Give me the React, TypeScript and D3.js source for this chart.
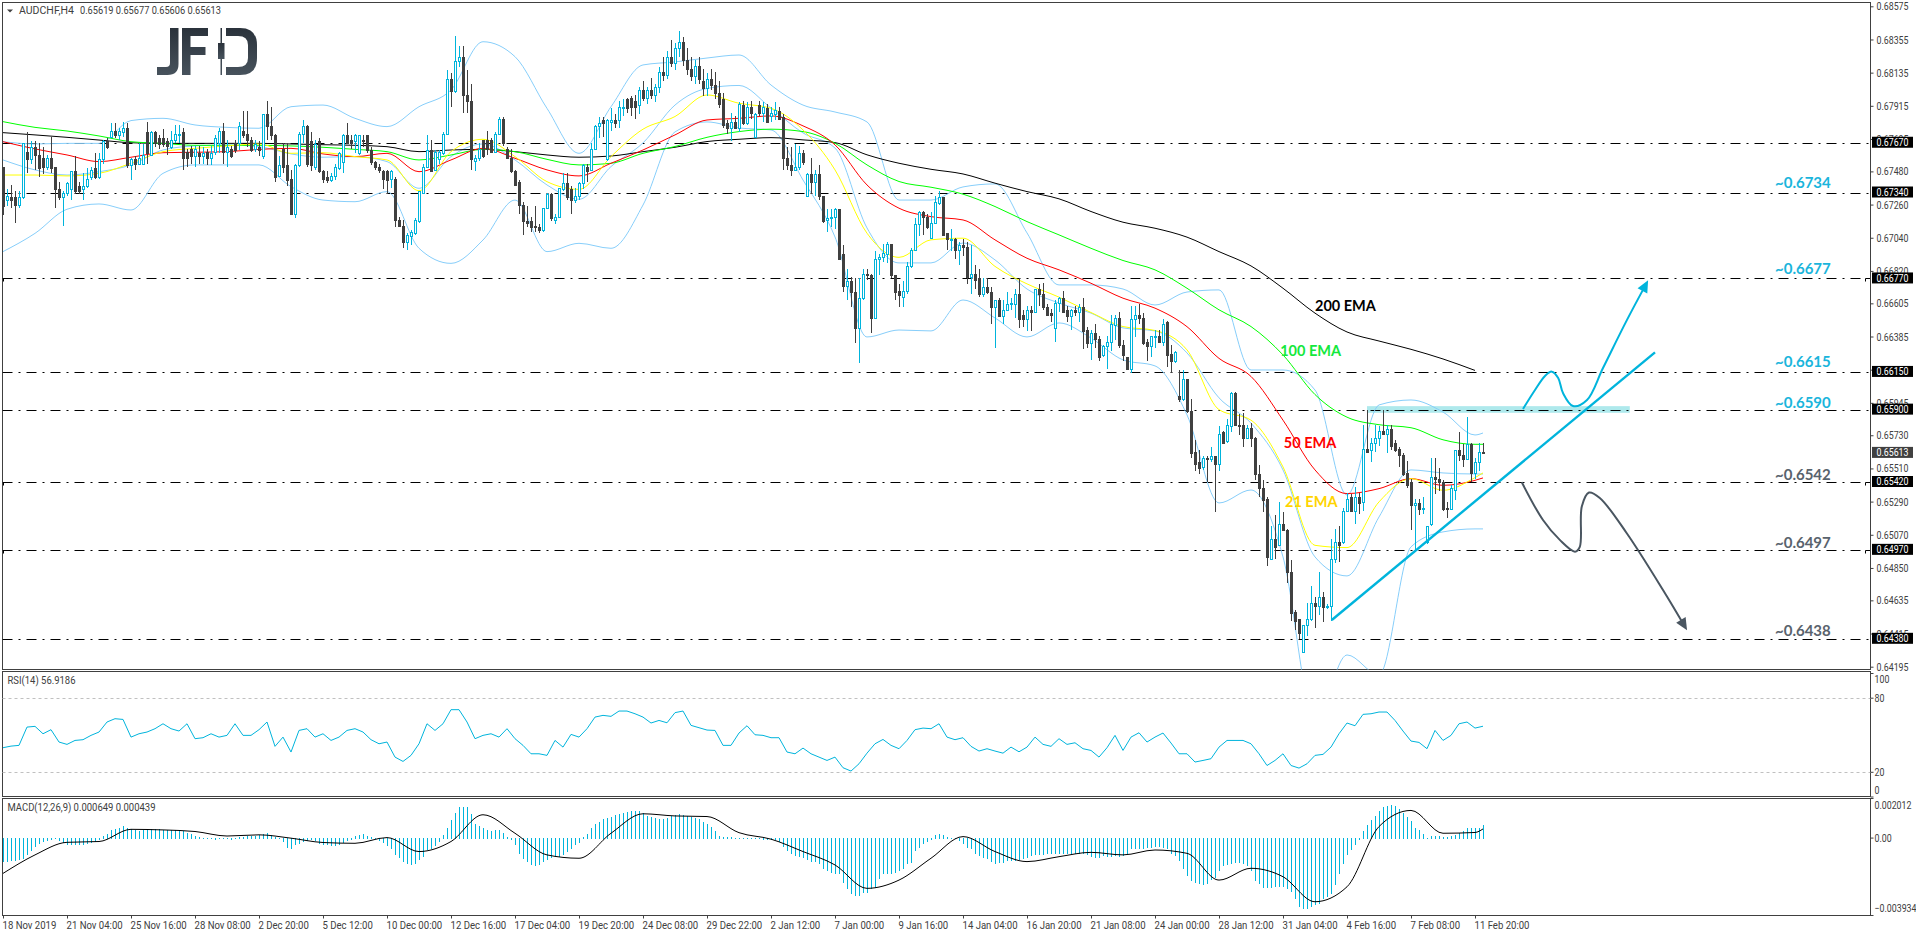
import React, { useEffect, useRef } from "react";
import * as d3 from "d3";

// AUDCHF H4 candles, prices in pips (6751 = 0.6751), one row per 16 bars
const opens = [
  6751,6729,6731,6731,6726,6731,6761,6756,6764,6759,6757,6751,6757,6751,6736,6731,
  6734,6736,6748,6738,6736,6738,6744,6750,6744,6756,6768,6771,6775,6772,6774,6777,
  6752,6756,6753,6753,6774,6759,6774,6770,6770,6768,6764,6769,6773,6774,6761,6763,
  6758,6760,6758,6761,6757,6761,6767,6775,6761,6763,6767,6767,6775,6773,6769,6763,
  6764,6758,6786,6778,6772,6745,6763,6752,6743,6720,6752,6773,6778,6768,6751,6768,
  6748,6744,6742,6745,6750,6754,6772,6769,6768,6760,6769,6772,6762,6754,6751,6748,
  6748,6743,6743,6716,6712,6701,6705,6707,6715,6734,6751,6762,6749,6756,6760,6773,
  6809,6801,6821,6824,6799,6795,6755,6757,6769,6769,6769,6761,6773,6783,6763,6757,
  6748,6741,6726,6715,6715,6712,6711,6709,6724,6733,6716,6718,6736,6740,6736,6729,
  6732,6740,6751,6749,6763,6778,6782,6756,6781,6782,6782,6790,6796,6797,6795,6792,
  6802,6797,6802,6799,6804,6814,6812,6824,6820,6830,6834,6822,6816,6811,6818,6808,
  6803,6809,6805,6800,6796,6780,6777,6781,6777,6792,6780,6791,6771,6792,6787,6790,
  6785,6786,6788,6784,6757,6752,6749,6751,6760,6732,6746,6741,6746,6732,6716,6717,
  6718,6723,6693,6672,6675,6668,6644,6664,6680,6679,6651,6690,6691,6693,6700,6679,
  6669,6665,6669,6685,6696,6713,6721,6718,6704,6714,6727,6731,6707,6703,6703,6696,
  6699,6698,6678,6680,6677,6667,6671,6668,6658,6663,6652,6656,6660,6660,6667,6653,
  6650,6656,6655,6670,6667,6658,6654,6644,6661,6664,6656,6652,6656,6655,6658,6643,
  6634,6641,6637,6626,6632,6635,6646,6651,6633,6625,6617,6650,6653,6651,6635,6632,
  6639,6639,6635,6648,6627,6622,6599,6597,6610,6589,6562,6555,6552,6558,6557,6559,
  6554,6575,6569,6579,6601,6580,6580,6571,6578,6571,6547,6538,6531,6491,6504,6500,
  6514,6510,6482,6456,6451,6429,6447,6451,6462,6460,6466,6459,6460,6491,6502,6502,
  6523,6532,6523,6532,6529,6564,6563,6568,6571,6576,6574,6577,6568,6564,6560,6548,
  6542,6527,6528,6524,6502,6514,6545,6544,6542,6525,6524,6537,6563,6560,6557,6567,
  6548,6555,6561.9,
];
const highs = [
  6751,6736,6739,6735,6735,6767,6774,6768,6768,6767,6764,6759,6771,6751,6741,6735,
  6741,6748,6758,6741,6747,6750,6751,6760,6760,6769,6770,6780,6780,6777,6781,6780,
  6757,6758,6767,6766,6781,6775,6775,6772,6776,6770,6775,6779,6779,6777,6763,6765,
  6765,6765,6764,6763,6765,6772,6777,6780,6769,6765,6769,6781,6788,6788,6771,6769,
  6768,6786,6795,6791,6773,6758,6767,6767,6749,6753,6774,6782,6779,6774,6769,6770,
  6749,6748,6747,6753,6761,6773,6780,6772,6773,6772,6772,6772,6764,6755,6753,6749,
  6749,6749,6744,6718,6716,6707,6709,6717,6735,6753,6772,6769,6762,6762,6774,6815,
  6813,6838,6831,6831,6815,6806,6759,6767,6769,6775,6770,6774,6784,6784,6764,6763,
  6749,6742,6728,6725,6718,6725,6713,6724,6734,6734,6720,6737,6747,6747,6738,6737,
  6741,6753,6753,6767,6779,6784,6784,6783,6790,6786,6795,6796,6797,6798,6799,6804,
  6808,6804,6810,6806,6817,6824,6828,6835,6833,6841,6837,6830,6824,6822,6824,6816,
  6813,6816,6814,6808,6800,6782,6787,6785,6794,6795,6794,6795,6787,6795,6794,6793,
  6791,6794,6791,6786,6764,6764,6766,6765,6762,6747,6757,6749,6752,6732,6723,6723,
  6724,6723,6699,6683,6678,6677,6677,6683,6683,6680,6695,6693,6700,6701,6700,6679,
  6673,6675,6688,6697,6717,6722,6722,6720,6721,6732,6735,6731,6707,6710,6704,6701,
  6703,6701,6699,6686,6683,6677,6677,6671,6663,6664,6663,6668,6664,6670,6677,6656,
  6659,6659,6670,6673,6674,6660,6657,6663,6665,6669,6659,6657,6659,6660,6664,6645,
  6643,6647,6639,6633,6639,6653,6653,6655,6636,6625,6659,6659,6660,6654,6637,6639,
  6643,6643,6650,6649,6633,6629,6616,6616,6610,6597,6570,6563,6559,6559,6565,6559,
  6579,6576,6584,6602,6602,6587,6588,6580,6581,6572,6553,6543,6532,6513,6520,6529,
  6522,6511,6490,6457,6451,6447,6462,6473,6466,6482,6469,6461,6504,6511,6513,6525,
  6535,6534,6539,6535,6580,6590,6571,6580,6579,6590,6580,6580,6570,6565,6561,6556,
  6544,6531,6531,6532,6513,6558,6558,6551,6543,6529,6540,6563,6575,6567,6585,6568,
  6558,6568,6567.7,
];
const lows = [
  6719,6725,6724,6714,6724,6730,6747,6753,6749,6744,6746,6749,6747,6724,6729,6712,
  6732,6729,6733,6733,6729,6737,6742,6743,6743,6753,6763,6770,6770,6769,6771,6750,
  6742,6749,6752,6752,6753,6758,6764,6763,6764,6759,6763,6767,6767,6749,6751,6753,
  6751,6753,6753,6752,6752,6759,6760,6753,6751,6757,6760,6762,6770,6764,6761,6761,
  6758,6756,6769,6769,6741,6744,6747,6738,6719,6717,6751,6767,6751,6748,6749,6747,
  6740,6740,6741,6742,6749,6747,6767,6763,6760,6759,6764,6760,6752,6749,6747,6736,
  6733,6737,6711,6711,6697,6696,6699,6706,6714,6733,6750,6748,6748,6753,6759,6772,
  6791,6800,6817,6787,6787,6749,6748,6755,6757,6759,6760,6760,6772,6765,6756,6747,
  6738,6720,6706,6711,6708,6708,6707,6708,6723,6715,6713,6717,6735,6729,6720,6727,
  6729,6736,6741,6748,6762,6770,6771,6755,6775,6777,6777,6785,6787,6785,6783,6786,
  6795,6793,6796,6794,6800,6808,6809,6817,6815,6824,6818,6812,6808,6806,6806,6798,
  6798,6802,6796,6790,6777,6773,6768,6776,6774,6779,6779,6783,6770,6785,6781,6780,
  6781,6782,6782,6749,6749,6745,6748,6749,6752,6732,6733,6732,6729,6714,6708,6711,
  6710,6689,6668,6663,6658,6634,6621,6663,6676,6641,6651,6679,6688,6687,6677,6663,
  6658,6658,6667,6684,6696,6705,6706,6710,6704,6714,6726,6705,6696,6695,6690,6686,
  6692,6673,6667,6670,6665,6665,6667,6647,6631,6652,6647,6656,6656,6651,6644,6645,
  6642,6642,6654,6659,6656,6652,6648,6635,6655,6655,6648,6643,6652,6648,6630,6631,
  6623,6631,6622,6625,6617,6629,6636,6631,6622,6617,6614,6638,6647,6633,6622,6625,
  6631,6634,6632,6618,6614,6621,6595,6596,6588,6558,6549,6547,6550,6542,6555,6522,
  6549,6568,6568,6575,6579,6573,6565,6571,6565,6543,6532,6522,6486,6491,6491,6500,
  6510,6475,6450,6444,6438,6429,6440,6450,6445,6454,6449,6458,6450,6488,6489,6501,
  6522,6522,6514,6521,6523,6561,6555,6562,6566,6574,6561,6563,6562,6552,6546,6538,
  6510,6496,6520,6521,6501,6513,6534,6536,6523,6518,6524,6530,6556,6552,6557,6542,
  6544,6549,6560.6,
];
const closes = [
  6725,6732,6729,6726,6731,6767,6756,6764,6759,6750,6751,6757,6750,6736,6731,6734,
  6740,6748,6735,6735,6738,6743,6749,6744,6756,6768,6764,6775,6772,6775,6777,6752,
  6756,6753,6757,6759,6760,6774,6767,6766,6766,6765,6769,6773,6773,6757,6757,6758,
  6763,6758,6760,6757,6760,6770,6775,6761,6764,6758,6762,6778,6772,6769,6762,6766,
  6762,6786,6778,6772,6744,6752,6751,6742,6720,6752,6773,6778,6753,6752,6766,6748,
  6743,6742,6745,6751,6760,6772,6767,6767,6772,6772,6768,6762,6754,6751,6749,6743,
  6742,6748,6716,6712,6701,6706,6708,6716,6735,6751,6762,6748,6761,6761,6773,6809,
  6801,6821,6824,6799,6795,6756,6757,6763,6758,6763,6761,6773,6783,6767,6757,6748,
  6739,6726,6715,6714,6711,6711,6709,6724,6733,6717,6718,6737,6740,6731,6729,6732,
  6740,6752,6748,6763,6778,6780,6780,6782,6782,6780,6791,6791,6790,6791,6791,6802,
  6797,6802,6799,6804,6814,6812,6824,6820,6830,6834,6822,6816,6811,6818,6809,6803,
  6809,6805,6800,6793,6779,6777,6781,6777,6793,6780,6791,6787,6786,6787,6791,6781,
  6787,6789,6783,6757,6752,6749,6751,6760,6754,6746,6741,6746,6732,6715,6717,6718,
  6723,6690,6672,6675,6668,6644,6664,6680,6679,6651,6690,6691,6694,6700,6679,6668,
  6666,6669,6685,6696,6713,6721,6718,6711,6714,6728,6731,6706,6703,6703,6696,6699,
  6698,6678,6680,6676,6667,6671,6668,6658,6663,6652,6656,6660,6661,6667,6650,6650,
  6656,6655,6670,6667,6658,6653,6653,6661,6664,6655,6652,6656,6655,6658,6642,6634,
  6641,6637,6625,6632,6635,6647,6651,6633,6626,6617,6650,6653,6651,6634,6632,6639,
  6639,6635,6647,6626,6622,6628,6597,6610,6589,6561,6554,6551,6558,6557,6559,6554,
  6574,6568,6580,6601,6580,6579,6571,6578,6571,6547,6538,6530,6492,6504,6499,6514,
  6510,6482,6455,6450,6442,6447,6451,6462,6460,6466,6459,6460,6491,6502,6500,6523,
  6531,6523,6532,6528,6564,6562,6568,6571,6576,6574,6577,6566,6563,6560,6547,6540,
  6527,6528,6524,6525,6513,6545,6544,6542,6524,6524,6538,6563,6560,6557,6567,6548,
  6555,6562,6561.3,
];

// moving averages and bands, read every 8th bar (last one at bar 370)
const lineBars = [...d3.range(0, 369, 8), 370];
const ema200 = [
  6773.7,6772.2,6770.6,6768.8,6767,6766.6,6766.6,6766.6,6766.6,6766.2,6765.7,6765.3,6764.4,6761.1,6762.2,6762.6,6761.1,6758.9,6757.4,6758.2,
  6761.1,6764,6767.8,6769.3,6770.4,6768.9,6767.1,6759,6753.4,6749.4,6746.3,6740.2,6734.6,6729.8,6721.4,6714.3,6710.3,6704.4,6694.8,6685.3,6670.5,
  6654,6641.5,6635.5,6630,6623.6,6616,
];
const ema100 = [
  6781,6777.2,6774.8,6771.5,6767.7,6766.6,6765.3,6765.3,6765.3,6764.9,6764,6762.6,6761.1,6755.6,6758.9,6762.6,6761.1,6756,6752.3,6753.4,
  6760,6764.5,6770.6,6774.4,6776,6774.4,6766.7,6752.3,6741.3,6737.5,6732.9,6724.7,6714.7,6705.9,6697,6688.9,6682.7,6670.5,6656.2,6645.1,6626.3,
  6600,6585,6580,6578,6570,6567,6567,
];
const ema50 = [
  6767.7,6762.9,6758.9,6754.5,6757.4,6760.4,6760.7,6761.1,6762.6,6763.3,6759.6,6757.8,6760,6747.8,6755.6,6763.3,6756.7,6749,6745,6753.4,
  6762.2,6772.2,6782.1,6783.2,6784.8,6778.2,6765.6,6739,6723.6,6718,6715.8,6702.6,6690.4,6682.7,6673.8,6663.9,6657.3,6645,6624,6612,6583,
  6550,6534.3,6537.6,6544.2,6539.8,6543.1,6544.7,
];
const ema21 = [
  6745.6,6745.6,6745,6746.7,6753.4,6761.1,6763.3,6764.9,6766.2,6760,6760.4,6757.8,6755.6,6735.2,6761.1,6769.3,6757.8,6741.2,6736.1,6757.8,
  6776,6784.4,6798.7,6793.2,6789.9,6775.5,6749,6707,6691,6702.6,6703.7,6685,6673.4,6664.6,6654.4,6645.1,6642.5,6629.6,6590,6583,6552,
  6500,6498.5,6528.8,6544.2,6536.5,6544.9,6548,
];
const bandUpper = [
  6767.7,6766.2,6766.6,6766.6,6781.7,6783.2,6778.8,6777.2,6776.6,6790.9,6792,6783.2,6777.7,6790.9,6802,6834,6824.1,6789.8,6760,6790.9,
  6818.6,6820.6,6823.2,6825.2,6805.3,6792,6787.4,6780.8,6729,6729,6737.7,6739.7,6707.2,6672.7,6672.7,6670,6659.4,6668,6669.4,6616.3,6616.3,
  6603,6533.4,6593.1,6596.4,6588.4,6573.2,6574.5,
];
const bandMiddle = [
  6755.6,6749,6745.6,6747.8,6752.3,6762.2,6764.9,6765.5,6764.4,6759.6,6757.4,6757.8,6754.5,6736.8,6757.8,6766.2,6755.6,6739,6729.5,6751.2,
  6766.9,6792,6803,6805,6790,6773.5,6763.5,6710.5,6687.3,6687.3,6700.5,6689.3,6670,6660.7,6654,6644.2,6642.2,6627.6,6597.8,6581,6550,
  6492.3,6479.7,6518.8,6550,6548,6547.3,6547.3,
];
const bandLower = [
  6694.8,6706.9,6722.9,6726.4,6722.4,6746.7,6752.3,6752.3,6752.3,6737.9,6729,6727.9,6734.6,6697,6687,6702.5,6729,6694.8,6700.3,6697,
  6725.7,6774.2,6780.8,6776.8,6775.5,6742.3,6704.5,6638.2,6642.8,6642.2,6662.7,6650.8,6638.2,6647.5,6637.5,6623,6619,6586.5,6528.1,6536.7,6492.3,
  6384,6427.3,6414,6499,6508.9,6510.9,6510.9,
];

// RSI(14), read every 2nd bar
const rsiValues = [
  39.5,40.8,41.4,56.2,56.8,50.8,54.1,44.1,42.2,45.4,46,49.5,52.2,60.3,63,62.4,48.1,50.8,52.2,54.9,
  58.9,54.9,53,58.9,46.8,47.6,50.8,48.1,49.5,58.9,49.5,49.5,54.1,60.3,40.6,48.1,36,53.5,54.9,48.1,
  50.8,45.4,48.1,53.5,54.9,52.2,46,42.7,44.1,31.9,28.4,33.3,42.7,58.9,53.5,58.9,70.3,70.3,60.3,46.8,
  49.5,50.8,48.1,54.9,46.8,41.4,34.6,34.6,33.3,45.4,40,50.3,48.1,54.9,64.3,65.7,64.9,69.2,69.2,67,
  64.3,59.5,61.6,59.7,67.9,69.2,57.6,55.7,53.8,53.5,41.4,41.4,51.4,57.3,50,49.5,47.6,47.6,36,34.6,
  39.2,34.6,31.9,29.2,31.9,23.3,20.6,26.5,35.1,42.7,46.2,41.4,38.7,45.4,54.1,55.4,54.9,58.9,48.1,46,
  47.6,40.6,36.8,38.7,36.8,35.1,40,36.2,40,48.1,42.2,40.6,46.8,42.2,43.5,38.7,37.3,31.9,39.5,49.5,
  37.3,48.1,51.6,44.1,48.1,51.4,43.3,34.6,34.6,27.9,29.2,30.6,40,45.4,45.4,45.4,42.7,34.6,25.1,29.2,
  34.6,25.1,23,26.5,33.3,34.1,40,50.8,59.5,57.3,66.5,67,68.4,68.4,61.6,53,44.9,43.8,38.7,53.5,
  45.4,49.5,58.9,60.3,55.4,56.9,
];
const rsiBars = d3.range(0, 371, 2);

// MACD(12,26,9) histogram per bar, units of 0.00001, one row per 16 bars
const macdBars = [
  -119,-119,-115,-115,-110,-102,-81,-64,-42,-25,-17,-14,-7,-3,-14,-24,
  -31,-34,-34,-31,-31,-27,-24,-17,-8,8,20,37,42,51,58,51,
  42,37,34,37,37,42,42,42,37,41,41,41,37,31,24,17,
  10,5,0,0,-3,-5,-3,-3,-3,-5,-3,3,5,7,8,10,
  14,20,24,14,3,-3,-17,-47,-51,-34,-25,-17,-14,-7,-14,-25,
  -31,-34,-37,-37,-31,-20,-14,-5,7,14,17,10,3,-3,-14,-24,
  -37,-51,-81,-98,-119,-129,-132,-129,-110,-93,-59,-51,-37,-17,14,51,
  88,127,156,156,156,119,71,59,47,37,34,37,37,25,5,-8,
  -34,-76,-102,-119,-132,-139,-136,-119,-110,-98,-93,-93,-85,-68,-51,-34,
  -20,3,17,47,68,81,93,102,105,115,122,127,132,136,136,136,
  127,110,105,102,93,93,102,110,115,119,115,110,105,102,93,81,
  68,54,34,8,3,3,3,0,0,0,0,0,0,0,-5,-8,
  -8,-8,-17,-42,-63,-80,-88,-93,-97,-110,-117,-119,-127,-156,-165,-173,
  -182,-182,-224,-258,-284,-292,-292,-275,-275,-258,-250,-207,-182,-182,-178,-173,
  -165,-156,-131,-122,-63,-46,-25,-17,-8,14,19,12,5,0,-3,-12,
  -29,-46,-54,-76,-88,-97,-105,-117,-127,-122,-122,-114,-114,-114,-110,-105,
  -97,-88,-83,-83,-83,-80,-76,-76,-80,-80,-76,-76,-76,-76,-80,-83,
  -93,-100,-97,-88,-93,-93,-88,-93,-88,-80,-54,-54,-54,-54,-49,-46,
  -42,-42,-49,-54,-80,-88,-114,-156,-190,-216,-224,-233,-236,-233,-212,-199,
  -165,-139,-134,-131,-122,-126,-131,-139,-165,-216,-233,-250,-250,-250,-246,-246,
  -246,-255,-272,-306,-348,-357,-357,-348,-340,-331,-306,-297,-280,-238,-178,-127,
  -85,-59,-34,-5,31,65,90,110,136,153,161,165,161,144,127,105,
  82,51,37,17,0,7,10,10,3,5,7,14,25,31,48,48,
  48,51,65,
];
const macdSignal = [
  -182,-88,-24,-20,42,39,31,8,14,-3,-25,-29,0,-71,-20,116,22,-88,-105,22,
  121,110,107,25,-8,-71,-139,-258,-216,-105,5,-71,-122,-97,-75,-88,-63,-80,-216,-156,-199,
  -326,-250,56,138,22,26,44,
];

// axes
const timeLabels = [
  "18 Nov 2019","21 Nov 04:00","25 Nov 16:00","28 Nov 08:00","2 Dec 20:00","5 Dec 12:00","10 Dec 00:00","12 Dec 16:00",
  "17 Dec 04:00","19 Dec 20:00","24 Dec 08:00","29 Dec 22:00","2 Jan 12:00","7 Jan 00:00","9 Jan 16:00","14 Jan 04:00",
  "16 Jan 20:00","21 Jan 08:00","24 Jan 00:00","28 Jan 12:00","31 Jan 04:00","4 Feb 16:00","7 Feb 08:00","11 Feb 20:00",
];
const priceTicks = [
  0.68575,0.68355,0.68135,0.67915,0.67695,0.6748,0.6726,0.6704,0.6682,0.66605,0.66385,0.66165,
  0.65945,0.6573,0.6551,0.6529,0.6507,0.6485,0.64635,0.64415,0.64195,
];
const levels = [0.6767, 0.6734, 0.6677, 0.6615, 0.659, 0.6542, 0.6497, 0.6438];
const hookedLevels = [0.6677, 0.6542, 0.6497];
const lastPrice = 0.65613;

// drawn objects, in bars and pips
const trendBars = [332.2, 413];
const trendPips = [6450.5, 6628];
const zoneBars = [341, 406.7];
const zonePips = [6592.3, 6587.9];
const upBars = [380, 383, 385.5, 387.2, 388.8, 390, 392.5, 396, 400, 406, 410.8];
const upPips = [6590.4, 6603, 6612.3, 6615.2, 6611, 6601, 6592.4, 6596.4, 6617.6, 6649.5, 6673.4];
const downBars = [379.7, 385, 389.2, 393, 394.2, 394.7, 396.5, 399.2, 405.9, 415, 420.5];
const downPips = [6541.8, 6516.8, 6503.6, 6495.8, 6499, 6525.7, 6535, 6531.4, 6508.2, 6470.4, 6446];
const levelNotes = [
  { text: "~0.6734", level: 0.6734, up: 10, tone: "up" },
  { text: "~0.6677", level: 0.6677, up: 10, tone: "up" },
  { text: "~0.6615", level: 0.6615, up: 10, tone: "up" },
  { text: "~0.6590", level: 0.659, up: 7, tone: "up" },
  { text: "~0.6542", level: 0.6542, up: 7, tone: "down" },
  { text: "~0.6497", level: 0.6497, up: 7, tone: "down" },
  { text: "~0.6438", level: 0.6438, up: 8, tone: "down" },
];
const emaNotes = [
  { text: "200 EMA", bar: 328, pips: 6659, color: "#000000" },
  { text: "100 EMA", bar: 319.3, pips: 6628.9, color: "#14e83c" },
  { text: "50 EMA", bar: 320.2, pips: 6568, color: "#ff0000" },
  { text: "21 EMA", bar: 320.5, pips: 6529, color: "#ffd400" },
];

const BLUE = "#00b4dc";
const DARK = "#404040";
const SLATE = "#4a5661";
const TICK_FONT = "Roboto, sans-serif";
const NOTE_FONT = "Lato, 'Open Sans', sans-serif";

const LEFT = 2.5;
const RIGHT = 1870.5;
const MAIN = { top: 2.5, bottom: 669.5 };
const RSI = { top: 671.5, bottom: 796.5 };
const MACD = { top: 798.5, bottom: 915.5 };

// The platform font is narrower than anything installed, so squeeze the glyphs
const squeeze = (sel: any, k: number) =>
  sel.each(function (this: SVGTextElement) {
    this.setAttribute("textLength", String(this.getComputedTextLength() * k));
    this.setAttribute("lengthAdjust", "spacingAndGlyphs");
  });

export default function App() {
  const svgRef = useRef<SVGSVGElement>(null);

  useEffect(() => {
    if (!svgRef.current) return;
    const svg = d3.select(svgRef.current);
    svg.selectAll("*").remove();

    const x = d3.scaleLinear().domain([0, 466.875]).range([3, RIGHT]);
    const yPrice = d3.scaleLinear().domain([0.68575, 0.64195]).range([6.3, 666.7]);
    const yPips = (p: number) => yPrice(p / 10000);
    const yRsi = d3.scaleLinear().domain([0, 100]).range([796.5, 673]);
    const yMacd = d3.scaleLinear().domain([-0.003934, 0.002012]).range([915, 798]);

    const defs = svg.append("defs");
    defs.append("clipPath").attr("id", "main-clip").append("rect")
      .attr("x", LEFT).attr("y", MAIN.top).attr("width", RIGHT - LEFT).attr("height", MAIN.bottom - MAIN.top);
    const logoFill = defs.append("linearGradient").attr("id", "logo-fill")
      .attr("x1", "0%").attr("y1", "0%").attr("x2", "0%").attr("y2", "100%");
    logoFill.append("stop").attr("offset", "0%").attr("stop-color", "#2a323b");
    logoFill.append("stop").attr("offset", "100%").attr("stop-color", "#47525c");

    // Pane frames
    [MAIN, RSI, MACD].forEach((p) => {
      svg.append("rect")
        .attr("x", LEFT).attr("y", p.top).attr("width", RIGHT - LEFT).attr("height", p.bottom - p.top)
        .attr("fill", "none").attr("stroke", "#404040").attr("stroke-width", 1);
    });

    // Logo
    const logo = svg.append("g").attr("fill", "url(#logo-fill)");
    logo.append("path").attr("d", "M170,28h8.5v36q0,11 -11,11h-10.5v-8h9q4,0 4,-4z");
    logo.append("path").attr("d", "M182,28h26v8h-17.5v11h15v8h-15v20h-8.5z");
    logo.append("path").attr("d", "M226,28h14q17,0 17,17v13q0,17 -17,17h-14v-8h12q10,0 10,-9v-13q0,-9 -10,-9h-12z");
    logo.append("rect").attr("x", 220.5).attr("y", 28).attr("width", 1.5).attr("height", 47);
    logo.append("rect").attr("x", 218).attr("y", 43).attr("width", 6.5).attr("height", 16);

    const main = svg.append("g").attr("clip-path", "url(#main-clip)");

    // Resistance zone
    main.append("rect")
      .attr("x", x(zoneBars[0])).attr("width", x(zoneBars[1]) - x(zoneBars[0]))
      .attr("y", yPips(zonePips[0])).attr("height", yPips(zonePips[1]) - yPips(zonePips[0]))
      .attr("fill", "#aee9ec");

    // Horizontal levels
    main.selectAll(".level").data(levels).enter().append("line")
      .attr("x1", LEFT).attr("x2", RIGHT)
      .attr("y1", (d) => Math.round(yPrice(d)) + 0.5).attr("y2", (d) => Math.round(yPrice(d)) + 0.5)
      .attr("stroke", "#000").attr("stroke-width", 1).attr("stroke-dasharray", "10 6 2 6");

    // Bands and moving averages
    const seriesLine = d3.line<number>()
      .x((_, i) => x(lineBars[i]))
      .y((d) => yPips(d))
      .curve(d3.curveMonotoneX);
    [
      { values: bandUpper, color: "#87cefa" },
      { values: bandMiddle, color: "#87cefa" },
      { values: bandLower, color: "#87cefa" },
      { values: ema200, color: "#000000" },
      { values: ema100, color: "#00ff00" },
      { values: ema50, color: "#ff0000" },
      { values: ema21, color: "#ffff00" },
    ].forEach((s) => {
      main.append("path").attr("d", seriesLine(s.values))
        .attr("fill", "none").attr("stroke", s.color).attr("stroke-width", 1);
    });

    // Candles
    const candles = main.append("g").attr("shape-rendering", "crispEdges");
    d3.range(closes.length).forEach((i) => {
      const up = closes[i] >= opens[i];
      const color = up ? BLUE : DARK;
      const cx = Math.round(x(i));
      const top = Math.round(yPips(Math.max(opens[i], closes[i])));
      const bottom = Math.round(yPips(Math.min(opens[i], closes[i])));
      candles.append("rect")
        .attr("x", cx).attr("width", 1)
        .attr("y", Math.round(yPips(highs[i])))
        .attr("height", Math.max(1, Math.round(yPips(lows[i])) - Math.round(yPips(highs[i]))))
        .attr("fill", color);
      if (up) {
        candles.append("rect")
          .attr("x", cx - 0.5).attr("width", 2)
          .attr("y", top + 0.5).attr("height", Math.max(1, bottom - top))
          .attr("fill", "#fff").attr("stroke", color).attr("stroke-width", 1);
      } else {
        candles.append("rect")
          .attr("x", cx - 1).attr("width", 3)
          .attr("y", top).attr("height", Math.max(1, bottom - top + 1))
          .attr("fill", color);
      }
    });

    // Trend line and scenario arrows
    main.append("line")
      .attr("x1", x(trendBars[0])).attr("y1", yPips(trendPips[0]))
      .attr("x2", x(trendBars[1])).attr("y2", yPips(trendPips[1]))
      .attr("stroke", BLUE).attr("stroke-width", 2.4);

    const arrow = (bars: number[], pips: number[], color: string) => {
      const pts = bars.map((b, i) => [x(b), yPips(pips[i])] as [number, number]);
      main.append("path")
        .attr("d", d3.line().curve(d3.curveCatmullRom.alpha(0.5))(pts))
        .attr("fill", "none").attr("stroke", color).attr("stroke-width", 2);
      const [px, py] = pts[pts.length - 2];
      const [ex, ey] = pts[pts.length - 1];
      const angle = (Math.atan2(ey - py, ex - px) * 180) / Math.PI;
      main.append("path")
        .attr("d", "M0,0L-12,-5.5L-12,5.5Z")
        .attr("transform", `translate(${ex + 4 * Math.cos((angle * Math.PI) / 180)},${ey + 4 * Math.sin((angle * Math.PI) / 180)}) rotate(${angle})`)
        .attr("fill", color);
    };
    arrow(upBars, upPips, BLUE);
    arrow(downBars, downPips, SLATE);

    // Small level hooks at both ends
    hookedLevels.forEach((l) => {
      const y = Math.round(yPrice(l)) + 0.5;
      svg.append("path").attr("d", `M3.5,${y + 3}v-3h4.5M${RIGHT - 5},${y + 3}v-3h4.5`)
        .attr("fill", "none").attr("stroke", "#000").attr("stroke-width", 1);
    });

    // Notes
    svg.selectAll(".level-note").data(levelNotes).enter().append("text")
      .attr("x", 1775).attr("y", (d) => yPrice(d.level) - d.up)
      .attr("dy", "0.35em")
      .attr("font-family", NOTE_FONT).attr("font-weight", 700).attr("font-size", 15)
      .attr("fill", (d) => (d.tone === "up" ? "#1ab5dc" : "#59636d"))
      .text((d) => d.text);
    svg.selectAll(".ema-note").data(emaNotes).enter().append("text")
      .attr("x", (d) => x(d.bar)).attr("y", (d) => yPips(d.pips))
      .attr("dy", "0.35em")
      .attr("font-family", NOTE_FONT).attr("font-weight", 700).attr("font-size", 14.5)
      .attr("fill", (d) => d.color)
      .text((d) => d.text);

    // RSI pane
    svg.selectAll(".rsi-level").data([80, 20]).enter().append("line")
      .attr("x1", LEFT).attr("x2", RIGHT)
      .attr("y1", (d) => Math.round(yRsi(d)) + 0.5).attr("y2", (d) => Math.round(yRsi(d)) + 0.5)
      .attr("stroke", "#c0c0c0").attr("stroke-dasharray", "3 3");
    const rsiLine = d3.line<number>().x((_, i) => x(rsiBars[i])).y((d) => yRsi(d));
    svg.append("path").attr("d", rsiLine(rsiValues))
      .attr("fill", "none").attr("stroke", BLUE).attr("stroke-width", 1);

    // MACD pane
    svg.append("g").attr("shape-rendering", "crispEdges")
      .selectAll("rect").data(macdBars).enter().append("rect")
      .attr("x", (_, i) => Math.round(x(i))).attr("width", 1)
      .attr("y", (d) => Math.min(yMacd(d / 100000), yMacd(0)))
      .attr("height", (d) => Math.abs(yMacd(d / 100000) - yMacd(0)) + 1)
      .attr("fill", BLUE);
    const signalLine = d3.line<number>()
      .x((_, i) => x(lineBars[i])).y((d) => yMacd(d / 100000)).curve(d3.curveMonotoneX);
    svg.append("path").attr("d", signalLine(macdSignal))
      .attr("fill", "none").attr("stroke", "#000").attr("stroke-width", 1);

    // Axes
    const styleAxis = (g: any) => {
      g.select(".domain").remove();
      g.selectAll("line").attr("stroke", "#404040");
      g.selectAll("text")
        .attr("font-family", TICK_FONT).attr("font-size", 11).attr("fill", "#404040");
    };
    const priceAxis = svg.append("g").attr("transform", `translate(${RIGHT},0)`)
      .call(d3.axisRight(yPrice).tickValues(priceTicks).tickSize(3).tickPadding(3).tickFormat(d3.format(".5f")) as any)
      .call(styleAxis as any);
    squeeze(priceAxis.selectAll("text"), 0.8);
    const rsiAxis = svg.append("g").attr("transform", `translate(${RIGHT},0)`)
      .call(d3.axisRight(yRsi).tickValues([0, 20, 80, 100]).tickSize(3).tickPadding(1) as any)
      .call(styleAxis as any);
    squeeze(rsiAxis.selectAll("text").attr("y", (d: any) => (d === 100 ? 5.5 : d === 0 ? -7 : 0)), 0.8);
    const macdAxis = svg.append("g").attr("transform", `translate(${RIGHT},0)`)
      .call(
        d3.axisRight(yMacd).tickValues([-0.003934, 0, 0.002012]).tickSize(3).tickPadding(1)
          .tickFormat((d: any) => (d === 0 ? "0.00" : d3.format(".6f")(d))) as any,
      )
      .call(styleAxis as any);
    squeeze(macdAxis.selectAll("text").attr("y", (d: any) => (d > 0 ? 7 : d < 0 ? -7 : 0)), 0.8);
    const timeAxis = svg.append("g").attr("transform", `translate(0,${MACD.bottom})`)
      .call(
        d3.axisBottom(x).tickValues(timeLabels.map((_, i) => i * 16)).tickSize(3).tickPadding(3)
          .tickFormat((_: any, i: number) => timeLabels[i]) as any,
      )
      .call(styleAxis as any);
    squeeze(timeAxis.selectAll("text").attr("text-anchor", "start").attr("x", -1), 0.87);

    // Level price boxes
    const boxes = svg.append("g");
    const box = (price: number, fill: string) => {
      const y = yPrice(price);
      boxes.append("rect").attr("x", 1872).attr("width", 41).attr("y", y - 6).attr("height", 11).attr("fill", fill);
      const label = boxes.append("text").attr("x", 1876.5).attr("y", y - 0.5).attr("dy", "0.35em")
        .attr("font-family", TICK_FONT).attr("font-size", 11).attr("fill", "#fff")
        .text(d3.format(".5f")(price));
      squeeze(label, 0.8);
    };
    levels.forEach((l) => box(l, "#000"));
    box(lastPrice, "#404040");

    // Header labels
    svg.append("path").attr("d", "M7,9.5h6l-3,3z").attr("fill", "#404040");
    const header = (text: string, tx: number, ty: number, width: number) =>
      svg.append("text").attr("x", tx).attr("y", ty).attr("dy", "0.35em")
        .attr("font-family", TICK_FONT).attr("font-size", 11).attr("fill", "#404040")
        .attr("textLength", width).attr("lengthAdjust", "spacingAndGlyphs").text(text);
    header("AUDCHF,H4", 19, 10.5, 55);
    header("0.65619 0.65677 0.65606 0.65613", 80, 10.5, 141);
    header("RSI(14) 56.9186", 7.5, 680.5, 68);
    header("MACD(12,26,9) 0.000649 0.000439", 7.5, 807.5, 148);
  }, []);

  return (
    <svg
      ref={svgRef}
      width={1916}
      height={936}
      style={{ position: "absolute", left: 0, top: 0, background: "#fff" }}
    />
  );
}
